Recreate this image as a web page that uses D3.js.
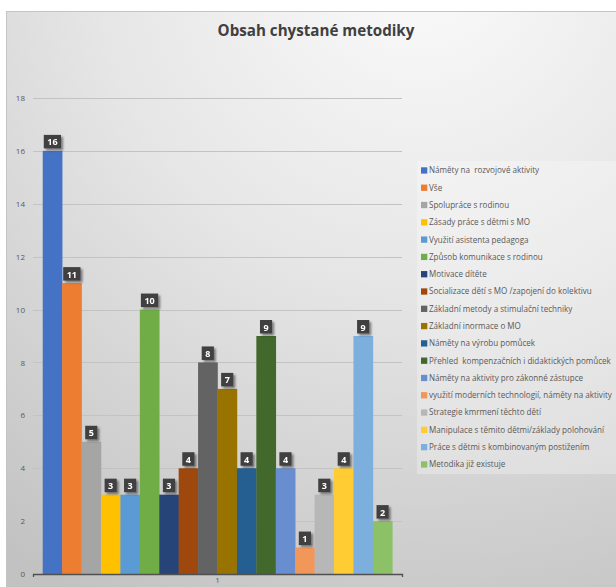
<!DOCTYPE html>
<html>
<head>
<meta charset="utf-8">
<script src="https://cdn.jsdelivr.net/npm/d3@7"></script>
<style>
  html, body { margin: 0; padding: 0; background: #ffffff; }
  svg { display: block; }
  text { font-family: "Open Sans", "Noto Sans", sans-serif; }
</style>
</head>
<body>
<svg id="chart" width="616" height="587"></svg>
<script>
// Single category on the horizontal axis
const categories = ["1"];

// One series per topic of the planned methodology
const seriesNames = [
  "Náměty na  rozvojové aktivity",
  "Vše",
  "Spolupráce s rodinou",
  "Zásady práce s dětmi s MO",
  "Využití asistenta pedagoga",
  "Způsob komunikace s rodinou",
  "Motivace dítěte",
  "Socializace dětí s MO /zapojení do kolektivu",
  "Základní metody a stimulační techniky",
  "Základní inormace o MO",
  "Náměty na výrobu pomůcek",
  "Přehled  kompenzačních i didaktických pomůcek",
  "Náměty na aktivity pro zákonné zástupce",
  "využití moderních technologií, náměty na aktivity",
  "Strategie kmrmení těchto dětí",
  "Manipulace s těmito dětmi/základy polohování",
  "Práce s dětmi s kombinovaným postižením",
  "Metodika již existuje"
];

const seriesValues = [16, 11, 5, 3, 3, 10, 3, 4, 8, 7, 4, 9, 4, 1, 3, 4, 9, 2];

const yTicks = [0, 2, 4, 6, 8, 10, 12, 14, 16, 18];

const seriesColors = [
  "#4472C4", "#ED7D31", "#A5A5A5", "#FFC000", "#5B9BD5", "#70AD47",
  "#264478", "#9E480E", "#636363", "#997300", "#255E91", "#43682B",
  "#698ED0", "#F1975A", "#B7B7B7", "#FFCD33", "#7CAFDD", "#8CC168"
];

const title = "Obsah chystané metodiky";

const svg = d3.select("#chart");
const defs = svg.append("defs");

// chart-area background: light at the top, greyer towards the bottom
const bg = defs.append("radialGradient").attr("id", "bgGrad")
  .attr("gradientUnits", "userSpaceOnUse")
  .attr("cx", 420).attr("cy", -40).attr("r", 720);
bg.append("stop").attr("offset", "0").attr("stop-color", "#fbfbfb");
bg.append("stop").attr("offset", "0.45").attr("stop-color", "#e6e6e6");
bg.append("stop").attr("offset", "1").attr("stop-color", "#c2c2c2");

const shadow = defs.append("filter").attr("id", "shadow")
  .attr("x", "-40%").attr("y", "-40%").attr("width", "190%").attr("height", "190%");
shadow.append("feGaussianBlur").attr("in", "SourceAlpha").attr("stdDeviation", 1.2);
shadow.append("feOffset").attr("dx", 1.5).attr("dy", 1.5).attr("result", "off");
shadow.append("feComponentTransfer").append("feFuncA").attr("type", "linear").attr("slope", 0.45);
const merge = shadow.append("feMerge");
merge.append("feMergeNode");
merge.append("feMergeNode").attr("in", "SourceGraphic");

svg.append("rect")
  .attr("x", 6.5).attr("y", 11.5).attr("width", 640).attr("height", 620)
  .attr("fill", "url(#bgGrad)").attr("stroke", "#c4c4c4").attr("stroke-width", 1);

// title, sized to its usual width
const titleText = svg.append("text")
  .attr("x", 316).attr("y", 36)
  .attr("text-anchor", "middle")
  .attr("font-size", 17).attr("font-weight", 700)
  .attr("fill", "#404040")
  .text(title);
const tw = titleText.node().getComputedTextLength();
titleText.attr("font-size", (17 * 197 / tw).toFixed(2));

// scales
const plot = { left: 33, right: 402, top: 98, bottom: 574 };
const y = d3.scaleLinear().domain([0, 18]).range([plot.bottom, plot.top]);
const x0 = d3.scaleBand().domain(categories).range([plot.left, plot.right]).padding(0);
const x1 = d3.scaleBand().domain(d3.range(seriesValues.length))
  .range([0, x0.bandwidth()]).paddingInner(0).paddingOuter(0.5);

// gridlines
svg.append("g")
  .selectAll("line").data(yTicks.filter(t => t > 0)).join("line")
  .attr("x1", plot.left).attr("x2", plot.right)
  .attr("y1", d => Math.round(y(d)) + 0.5).attr("y2", d => Math.round(y(d)) + 0.5)
  .attr("stroke", "#c3c3c3").attr("stroke-width", 1);

// y axis labels (no axis line)
const yAxis = d3.axisLeft(y).tickValues(yTicks).tickSize(0).tickPadding(0);
const gy = svg.append("g").attr("transform", `translate(25,0)`).call(yAxis);
gy.select(".domain").remove();
gy.selectAll("text").attr("font-size", 8).attr("fill", "#595959")
  .attr("font-family", "\"Open Sans\", sans-serif");

// bars
const gBars = svg.append("g").attr("transform", `translate(${x0(categories[0])},0)`);
gBars.selectAll("rect").data(seriesValues).join("rect")
  .attr("x", (d, i) => x1(i))
  .attr("y", d => y(d))
  .attr("width", x1.bandwidth() + 0.3)
  .attr("height", d => y(0) - y(d))
  .attr("fill", (d, i) => seriesColors[i]);

// x axis
const xAxis = d3.axisBottom(x0).tickSize(3).tickSizeOuter(3).tickPadding(1);
const gx = svg.append("g").attr("transform", `translate(0,${plot.bottom})`).call(xAxis);
gx.select(".domain").attr("stroke", "#505050").attr("stroke-width", 1.3);
gx.selectAll(".tick line").remove();
gx.selectAll("text").attr("font-size", 8).attr("fill", "#595959").attr("dy", "0.65em")
  .attr("font-family", "\"Open Sans\", sans-serif");

// value labels: dark boxes above each bar
const gLab = gBars.append("g");
seriesValues.forEach((v, i) => {
  const cx = x1(i) + x1.bandwidth() / 2;
  const g = gLab.append("g").attr("filter", "url(#shadow)");
  const t = g.append("text")
    .attr("x", cx).attr("y", y(v) - 5.5)
    .attr("text-anchor", "middle")
    .attr("font-size", 9).attr("font-weight", 700)
    .attr("fill", "#ffffff")
    .text(v);
  const w = t.node().getComputedTextLength() + 7;
  g.insert("rect", "text")
    .attr("x", cx - w / 2).attr("y", y(v) - 16)
    .attr("width", w).attr("height", 13.5)
    .attr("fill", "#404040");
});

// legend
const legend = svg.append("g");
legend.append("rect")
  .attr("x", 417).attr("y", 161).attr("width", 210).attr("height", 313)
  .attr("fill", "#ffffff").attr("fill-opacity", 0.28);

const legY = d3.scalePoint().domain(d3.range(seriesNames.length)).range([170.5, 464.5]);
const items = legend.selectAll("g.item").data(seriesNames).join("g")
  .attr("class", "item")
  .attr("transform", (d, i) => `translate(421,${legY(i)})`);
items.append("rect")
  .attr("x", 0).attr("y", -3.2).attr("width", 6.3).attr("height", 6.3)
  .attr("fill", (d, i) => seriesColors[i]);
const legText = items.append("text")
  .attr("x", 8).attr("y", 0).attr("dy", "0.35em")
  .attr("font-size", 9).attr("fill", "#595959")
  .style("white-space", "pre")
  .attr("xml:space", "preserve")
  .text(d => d);

// fit the legend font so the longest entry spans the legend width
const longest = legText.nodes()[13];
const wNow = longest.getComputedTextLength();
const fs = 9 * 183 / wNow;
legText.attr("font-size", fs.toFixed(2));
</script>
</body>
</html>
